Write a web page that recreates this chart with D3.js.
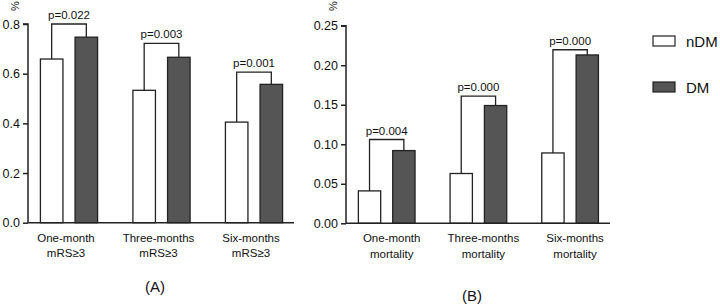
<!DOCTYPE html>
<html>
<head>
<meta charset="utf-8">
<script src="https://cdn.jsdelivr.net/npm/d3@7"></script>
<style>
  body { margin: 0; background: #fff; }
  text { font-family: "Liberation Sans", Arial, sans-serif; fill: #111; }
</style>
</head>
<body>
<div id="chart"></div>
<script>
// data
const series = ["nDM", "DM"];

const catsA = [["One-month", "mRS≥3"], ["Three-months", "mRS≥3"], ["Six-months", "mRS≥3"]];
const nDMA = [0.659, 0.533, 0.405];
const DMA = [0.747, 0.666, 0.557];
const pA = ["p=0.022", "p=0.003", "p=0.001"];
const bracketA = [0.800, 0.722, 0.606];
const ticksA = [0, 0.2, 0.4, 0.6, 0.8];

const catsB = [["One-month", "mortality"], ["Three-months", "mortality"], ["Six-months", "mortality"]];
const nDMB = [0.041, 0.063, 0.089];
const DMB = [0.092, 0.149, 0.213];
const pB = ["p=0.004", "p=0.000", "p=0.000"];
const bracketB = [0.106, 0.161, 0.2196];
const ticksB = [0, 0.05, 0.10, 0.15, 0.20, 0.25];

const W = 720, H = 306;
const ink = "#222";
const fills = { nDM: "#ffffff", DM: "#555555" };

const svg = d3.select("#chart").append("svg")
  .attr("width", W)
  .attr("height", H);

function panel(opts) {
  const g = svg.append("g");
  const x = d3.scaleBand()
    .domain(opts.cats.map((d, i) => i))
    .range(opts.xRange);
  const inner = d3.scaleBand()
    .domain(series)
    .range([0, x.bandwidth()])
    .paddingInner(0.35)
    .paddingOuter(0.51);
  const y = d3.scaleLinear()
    .domain([0, opts.yMax])
    .range(opts.yRange);

  // y axis
  const yAxis = g.append("g")
    .attr("transform", `translate(${opts.axisX},0)`)
    .call(d3.axisLeft(y).tickValues(opts.ticks).tickSize(5).tickPadding(3).tickFormat(d3.format(opts.fmt)));
  yAxis.selectAll("path, line").attr("stroke", ink).attr("stroke-width", 1.5);
  yAxis.selectAll("text").style("font-size", "12.5px").attr("fill", "#111")
    .style("font-family", "'Liberation Sans', Arial, sans-serif");
  yAxis.select(".domain").attr("d", `M-5,${y(opts.yMax)}H0V${y(0)}`);

  g.append("text")
    .attr("transform", `translate(${opts.axisX - 13},${6}) rotate(-90)`)
    .attr("text-anchor", "middle")
    .attr("dominant-baseline", "central")
    .style("font-size", "11px")
    .text("%");

  // bars
  const rows = opts.cats.map((c, i) => ({ i, vals: { nDM: opts.nDM[i], DM: opts.DM[i] } }));
  rows.forEach(r => {
    series.forEach(s => {
      g.append("rect")
        .attr("x", x(r.i) + inner(s))
        .attr("y", y(r.vals[s]))
        .attr("width", inner.bandwidth())
        .attr("height", y(0) - y(r.vals[s]))
        .attr("fill", fills[s])
        .attr("stroke", ink)
        .attr("stroke-width", 1.3);
    });
    // bracket
    const x1 = x(r.i) + inner("nDM") + inner.bandwidth() / 2;
    const x2 = x(r.i) + inner("DM") + inner.bandwidth() / 2;
    const by = y(opts.bracket[r.i]);
    g.append("path")
      .attr("d", `M${x1},${y(r.vals.nDM)}V${by}H${x2}V${y(r.vals.DM)}`)
      .attr("fill", "none")
      .attr("stroke", ink)
      .attr("stroke-width", 1.3);
    g.append("text")
      .attr("x", (x1 + x2) / 2)
      .attr("y", by - 9)
      .attr("text-anchor", "middle")
      .attr("dominant-baseline", "central")
      .style("font-size", "11.5px")
      .text(opts.p[r.i]);
  });

  // x axis line
  g.append("path")
    .attr("d", `M${opts.axisX},${y(0)}H${opts.axisEnd}`)
    .attr("stroke", ink)
    .attr("stroke-width", 1.5);

  // category labels
  opts.cats.forEach((c, i) => {
    const cx = x(i) + x.bandwidth() / 2 + opts.labelDx;
    const t = g.append("text")
      .attr("x", cx)
      .attr("y", y(0) + 19)
      .attr("text-anchor", "middle")
      .style("font-size", "11.5px");
    t.append("tspan").attr("x", cx).text(c[0]);
    t.append("tspan").attr("x", cx).attr("dy", 15.5).text(c[1]);
  });

  g.append("text")
    .attr("x", opts.tagX)
    .attr("y", opts.tagY)
    .attr("text-anchor", "middle")
    .attr("dominant-baseline", "central")
    .style("font-size", "15px")
    .text(opts.tag);
}

panel({
  cats: catsA, nDM: nDMA, DM: DMA, p: pA, bracket: bracketA,
  ticks: ticksA, fmt: ".1f", yMax: 0.8,
  xRange: [22.75, 300.25], yRange: [222.7, 24],
  axisX: 28, axisEnd: 294, labelDx: -3,
  tag: "(A)", tagX: 155, tagY: 286
});

panel({
  cats: catsB, nDM: nDMB, DM: DMB, p: pB, bracket: bracketB,
  ticks: ticksB, fmt: ".2f", yMax: 0.25,
  xRange: [340.85, 615.95], yRange: [223.3, 25.7],
  axisX: 346, axisEnd: 610, labelDx: 5,
  tag: "(B)", tagX: 472, tagY: 295
});

// legend
const legend = svg.append("g").attr("transform", "translate(653,36)");
series.forEach((s, i) => {
  legend.append("rect")
    .attr("x", 0)
    .attr("y", i * 46)
    .attr("width", 22)
    .attr("height", 10)
    .attr("fill", fills[s])
    .attr("stroke", ink)
    .attr("stroke-width", 1.2);
  legend.append("text")
    .attr("x", 33)
    .attr("y", i * 46 + 5)
    .attr("dominant-baseline", "central")
    .style("font-size", "15px")
    .text(s);
});
</script>
</body>
</html>
